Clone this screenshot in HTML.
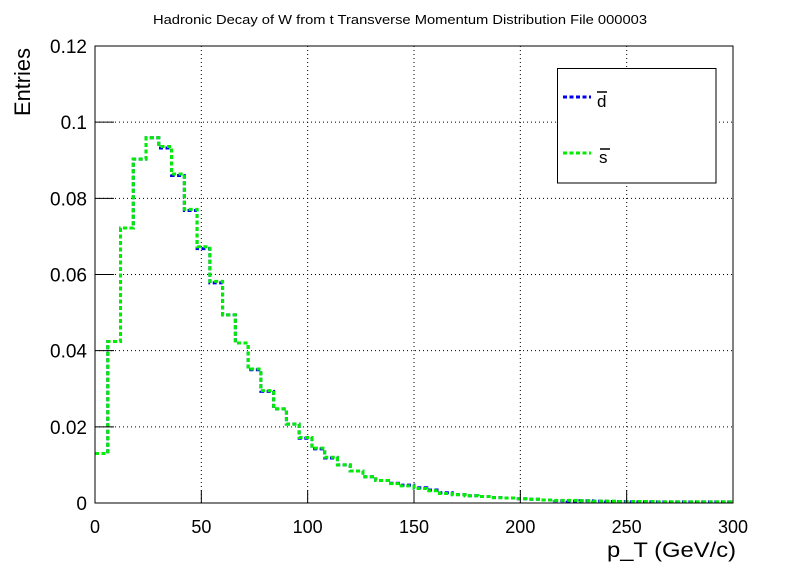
<!DOCTYPE html>
<html><head><meta charset="utf-8"><style>
body{margin:0;background:#fff;}
svg{display:block;font-family:"Liberation Sans",sans-serif;}
</style></head><body>
<svg id="chart" width="796" height="572" viewBox="0 0 796 572">
<rect x="0" y="0" width="796" height="572" fill="#fff"/>
<text x="400" y="24" font-size="13" text-anchor="middle" textLength="494" lengthAdjust="spacingAndGlyphs">Hadronic Decay of W from t Transverse Momentum Distribution File 000003</text>
<g id="grid"></g>
<g id="series"></g>
<rect x="95" y="46" width="638" height="457" fill="none" stroke="#000" stroke-width="1"/>
<g id="axes"></g>
<text transform="translate(30,116) rotate(-90)" font-size="22" textLength="68" lengthAdjust="spacingAndGlyphs">Entries</text>
<text x="736" y="557" font-size="21" text-anchor="end" textLength="129" lengthAdjust="spacingAndGlyphs">p_T (GeV/c)</text>
<g>
<rect x="557.5" y="68.5" width="158.5" height="114.5" fill="#fff" stroke="#000" stroke-width="1"/>
<g>
<line x1="563" y1="97" x2="591" y2="97" stroke="#0000ee" stroke-width="3" stroke-dasharray="4,2.5"/>
<line x1="597" y1="92" x2="607" y2="92" stroke="#000" stroke-width="1.5"/>
<text x="597" y="107" font-size="17">d</text>
</g>
<g>
<line x1="563" y1="153" x2="591" y2="153" stroke="#00ee00" stroke-width="3" stroke-dasharray="4,2.5"/>
<line x1="600" y1="149" x2="610" y2="149" stroke="#000" stroke-width="1.5"/>
<text x="599" y="163" font-size="17">s</text>
</g>
</g>
</svg>
<script>
const binEdges = [0, 300];
const binCount = 50;
const xTicks = [0, 50, 100, 150, 200, 250, 300];
const yTicks = [0, 0.02, 0.04, 0.06, 0.08, 0.1, 0.12];
const yTickLabels = ["0", "0.02", "0.04", "0.06", "0.08", "0.1", "0.12"];
const dbarValues = [0.0130,0.0424,0.0722,0.0903,0.0959,0.0932,0.0860,0.0768,0.0668,0.0578,0.0494,0.0420,0.0350,0.0293,0.0247,0.0207,0.0170,0.0142,0.0118,0.0100,0.0084,0.0069,0.0059,0.0052,0.0047,0.0040,0.0034,0.0027,0.0022,0.0019,0.0017,0.0014,0.0013,0.0011,0.0010,0.0008,0.0006,0.0005,0.0006,0.0005,0.0004,0.0004,0.0003,0.0003,0.0003,0.0003,0.0003,0.0003,0.0003,0.0003];
const sbarValues = [0.0130,0.0424,0.0722,0.0903,0.0959,0.0936,0.0864,0.0771,0.0673,0.0582,0.0494,0.0420,0.0352,0.0295,0.0247,0.0207,0.0172,0.0144,0.0120,0.0100,0.0084,0.0069,0.0059,0.0051,0.0045,0.0038,0.0032,0.0025,0.0022,0.0019,0.0017,0.0014,0.0013,0.0011,0.0010,0.0008,0.0007,0.0007,0.0006,0.0005,0.0005,0.0004,0.0004,0.0004,0.0003,0.0003,0.0003,0.0003,0.0003,0.0003];

const NS = "http://www.w3.org/2000/svg";
const X0 = 95, X1 = 733, Y0 = 503, Y1 = 46;
const xs = v => X0 + (v - binEdges[0]) / (binEdges[1] - binEdges[0]) * (X1 - X0);
const ys = v => Y0 - (v - 0) / (0.12 - 0) * (Y0 - Y1);
function mk(tag, attrs, parent) {
  const el = document.createElementNS(NS, tag);
  for (const k in attrs) el.setAttribute(k, attrs[k]);
  parent.appendChild(el);
  return el;
}
const grid = document.getElementById('grid');
const axes = document.getElementById('axes');
const series = document.getElementById('series');

xTicks.forEach((t, i) => {
  const x = xs(t);
  if (i > 0 && i < xTicks.length - 1) {
    const g = mk('line', {x1: x, y1: Y1, x2: x, y2: Y0, stroke: '#000', 'stroke-width': 1, 'stroke-dasharray': '1,3'}, grid);
    
    
  }
  const tk = mk('line', {x1: x, y1: Y0, x2: x, y2: Y0 - 13, stroke: '#000', 'stroke-width': 1}, axes);
  
  
  const lb = mk('text', {x: x, y: 533, 'font-size': 18, 'text-anchor': 'middle'}, axes);
  lb.textContent = String(t);
  
  
});
yTicks.forEach((t, i) => {
  const y = ys(t);
  if (i > 0 && i < yTicks.length - 1) {
    const g = mk('line', {x1: X0, y1: y, x2: X1, y2: y, stroke: '#000', 'stroke-width': 1, 'stroke-dasharray': '1,3'}, grid);
    
    
  }
  const tk = mk('line', {x1: X0, y1: y, x2: X0 + 19, y2: y, stroke: '#000', 'stroke-width': 1}, axes);
  
  
  const lb = mk('text', {x: 87, y: y + 7, 'font-size': 19, 'text-anchor': 'end'}, axes);
  lb.textContent = yTickLabels[i];
  
  
});

function stepPath(vals) {
  const w = (binEdges[1] - binEdges[0]) / vals.length;
  let d = '';
  vals.forEach((v, i) => {
    const xa = xs(binEdges[0] + i * w), xb = xs(binEdges[0] + (i + 1) * w), y = ys(v);
    d += (i === 0 ? 'M' : 'L') + xa.toFixed(2) + ',' + y.toFixed(2) + 'L' + xb.toFixed(2) + ',' + y.toFixed(2);
  });
  return d;
}
const pd = mk('path', {d: stepPath(dbarValues), fill: 'none', stroke: '#0000ee', 'stroke-width': 3, 'stroke-dasharray': '4,2.5'}, series);


const ps = mk('path', {d: stepPath(sbarValues), fill: 'none', stroke: '#00ee00', 'stroke-width': 3, 'stroke-dasharray': '4,2.5'}, series);


</script>
</body></html>
